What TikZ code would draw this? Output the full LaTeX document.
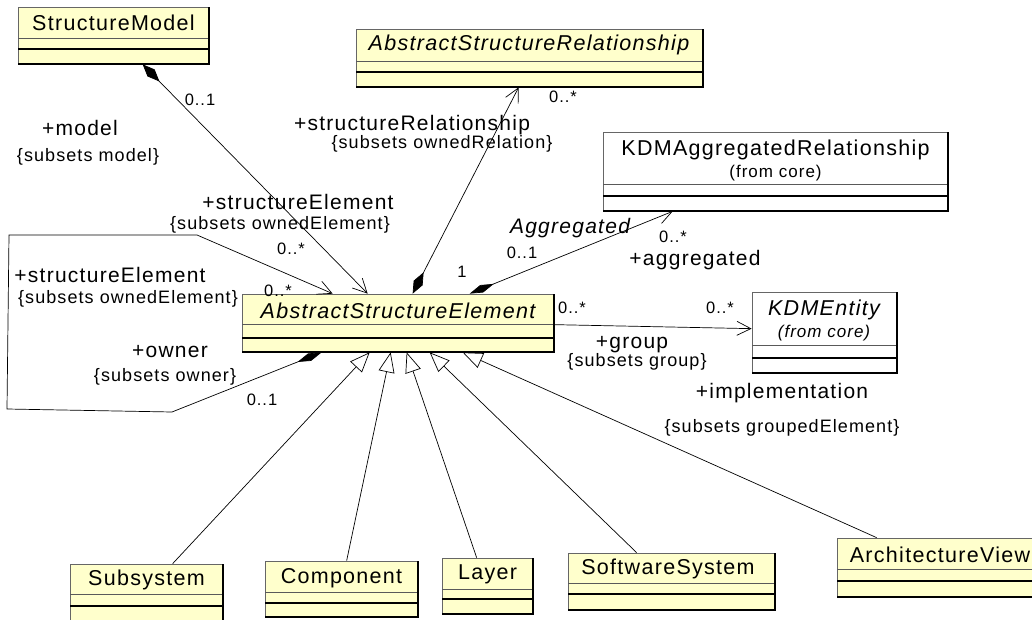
\documentclass[tikz,border=0pt]{standalone}
\usepackage{fontspec}
\setmainfont[LetterSpace=6]{Liberation Sans}
\usetikzlibrary{arrows.meta,fit}
\definecolor{umlyellow}{RGB}{255,255,204}
\newcommand\umlcls[8]{%
  \node[#1, fit={(#3,#4) (#5,#6)}] (#2) {};
  \draw[black!65, line width=0.6pt] (#3,#7) -- (#5,#7);
  \draw[black, line width=1.1pt] (#3,#8) -- (#5,#8);
  \draw[black, line width=1.4pt] (#3,#6) -- (#5,#6) -- (#5,#4);
}
\tikzset{
  cls/.style={inner sep=0pt, draw=black!60, line width=0.7pt, fill=umlyellow},
  clsw/.style={cls, fill=white},
  cname/.style={font=\fontsize{21.5}{24}\selectfont, inner sep=0pt},
  cnamei/.style={font=\fontsize{21.5}{24}\selectfont\itshape, inner sep=0pt},
  fromcore/.style={font=\fontsize{17}{19}\selectfont, inner sep=0pt},
  role/.style={font=\fontsize{21}{24}\selectfont, inner sep=0pt},
  subs/.style={font=\fontsize{18}{20}\selectfont, inner sep=0pt},
  mult/.style={font=\fontsize{16.5}{19}\selectfont, inner sep=0pt},
  conn/.style={line width=0.7pt},
  assoc/.style={conn, -{Straight Barb[length=14pt,width=14pt,line width=0.7pt]}},
  compo/.style={conn, {Diamond[length=24pt,width=10pt]}-{Straight Barb[length=14pt,width=14pt,line width=0.7pt]}},
  compoflat/.style={conn, {Diamond[length=26pt,width=8pt]}-{Straight Barb[length=14pt,width=14pt,line width=0.7pt]}},
  gen/.style={conn, -{Triangle[open,length=20pt,width=16pt,line width=0.7pt]}}
}
\begin{document}
\begin{tikzpicture}[x=1pt,y=-1pt]
\useasboundingbox (0,0) rectangle (1032,620);
% classes
\umlcls{cls}{sm}{18}{7}{209}{64}{38}{49}
\umlcls{cls}{asr}{356}{29}{703}{87}{61}{72}
\umlcls{clsw}{kar}{603}{132}{948}{211}{184}{196}
\umlcls{cls}{ase}{242}{294}{554}{352}{324}{338}
\umlcls{clsw}{ke}{752}{292}{897}{373}{345}{358}
\umlcls{cls}{sub}{70}{564}{223}{626}{594}{606}
\umlcls{cls}{comp}{265}{561}{418}{617}{592}{603}
\umlcls{cls}{layer}{442}{558}{533}{614}{589}{599}
\umlcls{cls}{sws}{568}{553}{775}{610}{583}{594}
\umlcls{cls}{av}{837}{538}{1034}{597}{569}{581}
% class names
\node[cname] (smt) at (113.5,23) {StructureModel};
\node[cnamei] (asrt) at (529,45) {AbstractStructureRelationship};
\node[cname] (kart) at (775.5,150) {KDMAggregatedRelationship};
\node[fromcore] (karf) at (775.5,173) {(from core)};
\node[cnamei] (aset) at (398,311) {AbstractStructureElement};
\node[cnamei] (ket) at (824,310) {KDMEntity};
\node[fromcore, font=\fontsize{17}{19}\selectfont\itshape] (kef) at (824,333) {(from core)};
\node[cname] (subt) at (146.5,580) {Subsystem};
\node[cname] (compt) at (341.5,578) {Component};
\node[cname] (layert) at (487.5,574) {Layer};
\node[cname] (swst) at (668,569) {SoftwareSystem};
\node[cname] (avt) at (940,555) {ArchitectureView};
% loop points
\coordinate (l1) at (172,412);
\coordinate (l2) at (7,409);
\coordinate (l3) at (9,235);
\coordinate (l4) at (197,235);
% connectors
\draw[compo] ([xshift=125pt]sm.south west) -- ([xshift=126pt]ase.north west);
\draw[compoflat] ([xshift=80pt]ase.south west) -- (l1) -- (l2) -- (l3) -- (l4) -- ([xshift=91pt]ase.north west);
\draw[compo] ([xshift=171pt]ase.north west) -- ([xshift=163pt]asr.south west);
\draw[compoflat] ([xshift=228pt]ase.north west) -- ([xshift=70pt]kar.south west);
\draw[assoc] ([yshift=-31pt]ase.north east) -- ([yshift=-37pt]ke.north west);
\draw[gen] ([xshift=103pt]sub.north west) -- ([xshift=128pt]ase.south west);
\draw[gen] ([xshift=82pt]comp.north west) -- ([xshift=149pt]ase.south west);
\draw[gen] ([xshift=35pt]layer.north west) -- ([xshift=165pt]ase.south west);
\draw[gen] ([xshift=69pt]sws.north west) -- ([xshift=188pt]ase.south west);
\draw[gen] ([xshift=40pt]av.north west) -- ([xshift=221pt]ase.south west);
% labels
\node[mult] (m1) at (200,100) {0..1};
\node[role] (r1) at (80,128) {+model};
\node[subs] (s1) at (88,157) {\{subsets model\}};
\node[role] (r2) at (298,202) {+structureElement};
\node[subs] (s2) at (280,225) {\{subsets ownedElement\}};
\node[mult] (m2) at (291,249) {0..*};
\node[role] (r3) at (110,275) {+structureElement};
\node[subs] (s3) at (128,299) {\{subsets ownedElement\}};
\node[mult] (m3) at (278,291) {0..*};
\node[role] (r4) at (170,352) {+owner};
\node[subs] (s4) at (165,377) {\{subsets owner\}};
\node[mult] (m4) at (262,400) {0..1};
\node[role] (r5) at (412,125) {+structureRelationship};
\node[subs] (s5) at (442,144) {\{subsets ownedRelation\}};
\node[mult] (m5) at (563,97) {0..*};
\node[mult] (m6) at (462,272) {1};
\node[role, font=\fontsize{21}{24}\selectfont\itshape] (r6) at (570,228) {Aggregated};
\node[mult] (m7) at (522,253) {0..1};
\node[mult] (m8) at (673,237) {0..*};
\node[role] (r7) at (695,260) {+aggregated};
\node[mult] (m9) at (572,308) {0..*};
\node[mult] (m10) at (720,308) {0..*};
\node[role] (r8) at (632,345) {+group};
\node[subs] (s8) at (637,362) {\{subsets group\}};
\node[role] (r9) at (782,393) {+implementation};
\node[subs] (s9) at (782,428) {\{subsets groupedElement\}};
\end{tikzpicture}
\end{document}
